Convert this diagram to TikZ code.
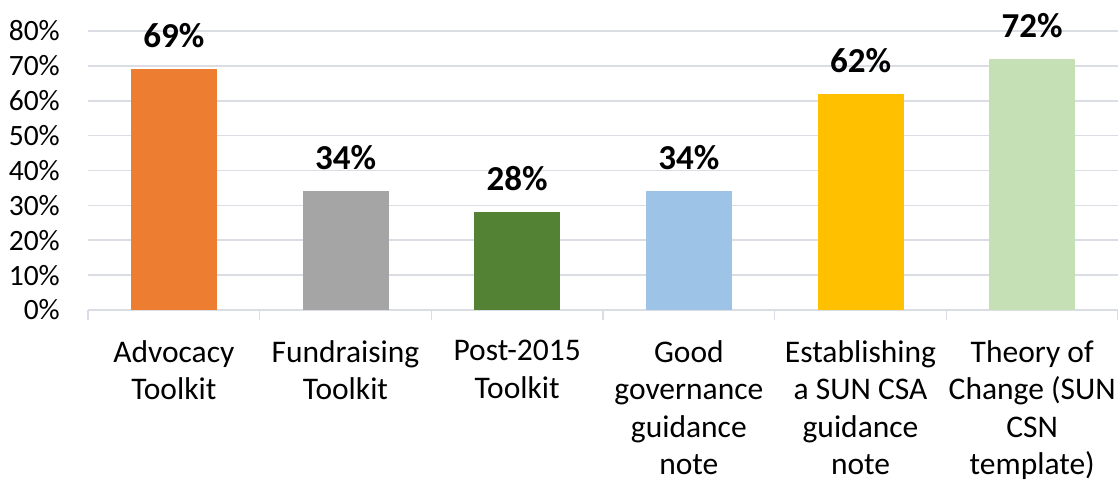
\documentclass[tikz,border=0pt]{standalone}
\usepackage{fontspec}
\setmainfont{Carlito}
\usetikzlibrary{calc}
\definecolor{gridgrey}{HTML}{DADDE3}
\definecolor{barorange}{HTML}{ED7D31}
\definecolor{bargrey}{HTML}{A5A5A5}
\definecolor{bargreen}{HTML}{548235}
\definecolor{barblue}{HTML}{9DC3E6}
\definecolor{bargold}{HTML}{FFC000}
\definecolor{barlightgreen}{HTML}{C5E0B4}

\begin{document}
\begin{tikzpicture}[x=1pt,y=1pt,
    gridline/.style={draw=gridgrey,line width=1.6pt},
    ticklabel/.style={anchor=east,inner sep=0pt,font=\fontsize{29.5}{35}\selectfont},
    catlabel/.style={anchor=north,inner sep=0pt,align=center,font=\fontsize{31.5}{37.5}\selectfont},
    valuelabel/.style={anchor=base,inner sep=0pt,font=\bfseries\fontsize{35}{40}\selectfont}]
    \useasboundingbox (-88,-172) rectangle (1030,310);
    \def\pct{3.4875}
    \def\cw{171.67}

    % grid and y labels
    \foreach \v in {1,...,8} {
        \draw[gridline] (0,\v*10*\pct) -- (1030,\v*10*\pct);
    }
    \foreach \v in {0,...,8} {
        \pgfmathtruncatemacro\lab{\v*10}
        \node[ticklabel] (tick\v) at (-28,\v*10*\pct) {\lab\%};
    }

    % x axis with ticks
    \coordinate (xo) at (0,0);
    \coordinate (xe) at (1030,0);
    \draw[gridline] (xo) -- (xe);
    \foreach \i in {0,...,6} {
        \draw[gridline] (\i*\cw,0) -- (\i*\cw,-10);
    }

    % bars, values and categories
    \foreach \i/\val/\col/\cat in {
        1/69/barorange/{Advocacy\\Toolkit},
        2/34/bargrey/{Fundraising\\Toolkit},
        3/28/bargreen/{Post-2015\\Toolkit},
        4/34/barblue/{Good\\governance\\guidance\\note},
        5/62/bargold/{Establishing\\a SUN CSA\\guidance\\note},
        6/72/barlightgreen/{Theory of\\Change (SUN\\CSN\\template)}} {
        \coordinate (base\i) at ({(\i-0.5)*\cw},0);
        \fill[\col] ($(base\i)+(-43,0)$) rectangle ($(base\i)+(43,\val*\pct)$);
        \node[valuelabel] (val\i) at ($(base\i)+(0,\val*\pct+21.5)$) {\val\%};
        \node[catlabel] (cat\i) at ($(base\i)+(0,-30)$) {\cat};
    }
\end{tikzpicture}
\end{document}
